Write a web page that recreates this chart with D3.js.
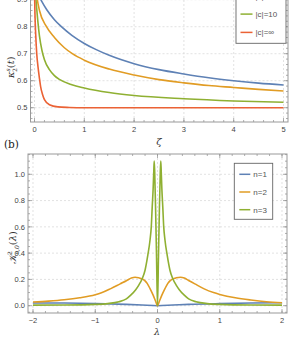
<!DOCTYPE html>
<html>
<head>
<meta charset="utf-8">
<script src="https://cdn.jsdelivr.net/npm/d3@7"></script>
<style>
  body { margin: 0; background: #fff; }
  svg { display: block; }
  .tick-label { font-family: "Liberation Sans", Arial, sans-serif; font-size: 7.5px; fill: #444; }
  .legend-text { font-family: "Liberation Sans", Arial, sans-serif; font-size: 8px; fill: #555; }
</style>
</head>
<body>
<div id="chart"></div>
<script>
// ---- data : panel (a), kappa vs zeta ----
let top_series = [
  {name: "|c|=1", color: "#5E81B5",
   x: [0.10, 0.14, 0.25, 0.40, 0.54, 0.75, 1.00, 1.24, 1.50, 2.00, 2.50, 3.00, 3.50, 4.00, 4.50, 5.00],
   y: [0.910, 0.896, 0.862, 0.826, 0.800, 0.768, 0.738, 0.715, 0.694, 0.663, 0.641, 0.625, 0.611, 0.600, 0.591, 0.584]},
  {name: "|c|=3", color: "#E19C24",
   x: [0.030, 0.057, 0.10, 0.24, 0.40, 0.60, 0.76, 1.00, 1.50, 2.00, 2.50, 3.00, 3.50, 4.00, 4.50, 5.00],
   y: [0.940, 0.900, 0.860, 0.800, 0.760, 0.722, 0.700, 0.676, 0.643, 0.621, 0.604, 0.592, 0.582, 0.575, 0.568, 0.562]},
  {name: "|c|=10", color: "#8FB032",
   x: [0.015, 0.03, 0.05, 0.10, 0.15, 0.20, 0.30, 0.40, 0.50, 0.75, 1.00, 1.50, 2.00, 3.00, 4.00, 5.00],
   y: [0.950, 0.900, 0.855, 0.765, 0.712, 0.678, 0.641, 0.619, 0.605, 0.585, 0.573, 0.556, 0.545, 0.533, 0.525, 0.520]},
  {name: "|c|=\u221e", color: "#EB6235",
   x: [0.001, 0.004, 0.012, 0.023, 0.045, 0.07, 0.10, 0.123, 0.16, 0.20, 0.30, 0.47, 0.70, 1.00, 3.00, 5.00],
   y: [0.960, 0.900, 0.830, 0.776, 0.700, 0.652, 0.608, 0.578, 0.550, 0.530, 0.511, 0.503, 0.501, 0.500, 0.500, 0.500]}
];
let top_xticks = [0, 1, 2, 3, 4, 5];
let top_yticks = [0.5, 0.6, 0.7, 0.8, 0.9];

// ---- data : panel (b), K vs lambda ----
let bot_series = [
  {name: "n=1", color: "#5E81B5",
   x: [-2, -1.5, -1, -0.5, -0.25, 0, 0.25, 0.5, 1, 1.5, 2],
   y: [0.021, 0.020, 0.017, 0.010, 0.005, 0.000, 0.005, 0.010, 0.016, 0.020, 0.022]},
  {name: "n=2", color: "#E19C24",
   x: [-2, -1.75, -1.5, -1.25, -1, -0.9, -0.75, -0.6, -0.5, -0.42, -0.36, -0.3, -0.246, -0.2, -0.166, -0.12, -0.07, -0.035, 0,
       0.035, 0.07, 0.12, 0.166, 0.2, 0.246, 0.3, 0.37, 0.43, 0.5, 0.6, 0.75, 0.9, 1, 1.25, 1.5, 1.75, 2],
   y: [0.028, 0.035, 0.045, 0.060, 0.083, 0.098, 0.130, 0.166, 0.190, 0.210, 0.216, 0.212, 0.204, 0.189, 0.170, 0.130, 0.080, 0.040, 0.000,
       0.040, 0.080, 0.130, 0.170, 0.189, 0.204, 0.212, 0.216, 0.210, 0.192, 0.166, 0.128, 0.100, 0.086, 0.060, 0.043, 0.030, 0.022]},
  {name: "n=3", color: "#8FB032",
   x: [-2, -1.5, -1, -0.8, -0.62, -0.5, -0.43, -0.35, -0.3, -0.246, -0.2, -0.155, -0.12, -0.1, -0.085, -0.07, -0.06, -0.053,
       -0.045, -0.03, -0.015, 0, 0.015, 0.03, 0.045,
       0.053, 0.06, 0.07, 0.085, 0.1, 0.12, 0.155, 0.2, 0.246, 0.3, 0.35, 0.43, 0.5, 0.62, 0.8, 1, 1.5, 2],
   y: [0.004, 0.005, 0.010, 0.016, 0.030, 0.052, 0.080, 0.122, 0.157, 0.205, 0.270, 0.386, 0.500, 0.600, 0.750, 0.890, 1.020, 1.100,
       1.020, 0.720, 0.360, 0.000, 0.360, 0.720, 1.020,
       1.100, 1.020, 0.890, 0.750, 0.600, 0.500, 0.386, 0.270, 0.205, 0.157, 0.122, 0.080, 0.052, 0.030, 0.016, 0.010, 0.005, 0.004]}
];
let bot_xticks = [-2, -1, 0, 1, 2];
let bot_yticks = [0, 0.2, 0.4, 0.6, 0.8, 1.0];

let W = 299, H = 339;
let svg = d3.select("#chart").append("svg").attr("width", W).attr("height", H);
svg.append("rect").attr("width", W).attr("height", H).attr("fill", "#fff");

let fmt_minus = function(s) { return s.replace("-", "\u2212"); };

let draw_panel = function(p) {
  let x = d3.scaleLinear().domain(p.xdom).range(p.xrange);
  let y = d3.scaleLinear().domain(p.ydom).range(p.yrange);
  let f = p.frame;
  let g = svg.append("g");

  let clipId = "clip-" + p.id;
  svg.append("clipPath").attr("id", clipId).append("rect")
    .attr("x", f.left).attr("y", f.top).attr("width", f.right - f.left).attr("height", f.bottom - f.top);

  // grid
  let grid = g.append("g").attr("clip-path", "url(#" + clipId + ")")
    .attr("stroke", "#d6d6d6").attr("stroke-width", 0.7).attr("stroke-dasharray", "2,2");
  p.xticks.forEach(function(t) {
    grid.append("line").attr("x1", x(t)).attr("x2", x(t)).attr("y1", f.top).attr("y2", f.bottom);
  });
  p.yticks.forEach(function(t) {
    grid.append("line").attr("y1", y(t)).attr("y2", y(t)).attr("x1", f.left).attr("x2", f.right);
  });

  // curves
  let line = d3.line().x(function(d) { return x(d[0]); }).y(function(d) { return y(d[1]); })
    .curve(d3.curveMonotoneX);
  let cg = g.append("g").attr("clip-path", "url(#" + clipId + ")");
  p.series.forEach(function(s) {
    let pts = s.x.map(function(v, i) { return [v, s.y[i]]; });
    cg.append("path").datum(pts).attr("d", line)
      .attr("fill", "none").attr("stroke", s.color).attr("stroke-width", 1.6)
      .attr("stroke-linejoin", "round");
  });

  // frame
  g.append("rect").attr("x", f.left).attr("y", f.top)
    .attr("width", f.right - f.left).attr("height", f.bottom - f.top)
    .attr("fill", "none").attr("stroke", "#999").attr("stroke-width", 1);

  // ticks (major + minor), inward on all sides
  let tk = g.append("g").attr("stroke", "#999").attr("stroke-width", 0.8);
  let xminor = d3.range(p.xdom[0], p.xdom[1] + 1e-9, p.xminor);
  let yminor = d3.range(p.yminor0, p.ymax + 1e-9, p.yminor);
  xminor.forEach(function(t) {
    let X = x(t); if (X < f.left || X > f.right) return;
    tk.append("line").attr("x1", X).attr("x2", X).attr("y1", f.bottom).attr("y2", f.bottom - 2);
    tk.append("line").attr("x1", X).attr("x2", X).attr("y1", f.top).attr("y2", f.top + 2);
  });
  yminor.forEach(function(t) {
    let Y = y(t); if (Y < f.top || Y > f.bottom) return;
    tk.append("line").attr("y1", Y).attr("y2", Y).attr("x1", f.left).attr("x2", f.left + 2);
    tk.append("line").attr("y1", Y).attr("y2", Y).attr("x1", f.right).attr("x2", f.right - 2);
  });
  p.xticks.forEach(function(t) {
    tk.append("line").attr("x1", x(t)).attr("x2", x(t)).attr("y1", f.bottom).attr("y2", f.bottom - 4);
    tk.append("line").attr("x1", x(t)).attr("x2", x(t)).attr("y1", f.top).attr("y2", f.top + 4);
    g.append("text").attr("class", "tick-label").attr("x", x(t)).attr("y", f.bottom + 10)
      .attr("text-anchor", "middle").text(fmt_minus(d3.format(p.xfmt)(t)));
  });
  p.yticks.forEach(function(t) {
    tk.append("line").attr("y1", y(t)).attr("y2", y(t)).attr("x1", f.left).attr("x2", f.left + 4);
    tk.append("line").attr("y1", y(t)).attr("y2", y(t)).attr("x1", f.right).attr("x2", f.right - 4);
    g.append("text").attr("class", "tick-label").attr("x", f.left - 3).attr("y", y(t) + 2.7)
      .attr("text-anchor", "end").text(d3.format(p.yfmt)(t));
  });

  // legend
  let L = p.legend;
  g.append("rect").attr("x", L.x).attr("y", L.y).attr("width", L.w).attr("height", L.h)
    .attr("fill", "#fff").attr("stroke", "#666").attr("stroke-width", 0.9);
  p.series.forEach(function(s, i) {
    let yy = L.first + i * L.step;
    g.append("line").attr("x1", L.x + L.lx0).attr("x2", L.x + L.lx1).attr("y1", yy).attr("y2", yy)
      .attr("stroke", s.color).attr("stroke-width", 1.5);
    g.append("text").attr("class", "legend-text").attr("x", L.x + L.tx).attr("y", yy + 2.8).text(s.name);
  });
};

draw_panel({
  id: "a", series: top_series,
  xdom: [0, 5], xrange: [34.5, 283.5], ydom: [0.5, 0.8], yrange: [107.7, 26.7],
  frame: {left: 30.5, right: 288, top: -20, bottom: 122},
  xticks: top_xticks, yticks: top_yticks, xfmt: "d", yfmt: ".1f",
  xminor: 0.2, yminor: 0.02, yminor0: 0.44, ymax: 0.96,
  legend: {x: 236, y: -50, w: 50, h: 93.3, first: -22.5, step: 18.3, lx0: 4.5, lx1: 16.5, tx: 19.5}
});

draw_panel({
  id: "b", series: bot_series,
  xdom: [-2, 2], xrange: [33, 282], ydom: [0, 1], yrange: [305.7, 174.3],
  frame: {left: 28, right: 287, top: 154, bottom: 313},
  xticks: bot_xticks, yticks: bot_yticks, xfmt: "d", yfmt: ".1f",
  xminor: 0.2, yminor: 0.05, yminor0: -0.05, ymax: 1.15,
  legend: {x: 234.3, y: 163.3, w: 38.4, h: 56, first: 174.3, step: 17.7, lx0: 5, lx1: 16, tx: 19}
});

// axis labels
svg.append("text").attr("x", 159).attr("y", 145).attr("text-anchor", "middle")
  .style("font-family", "'DejaVu Serif', serif").style("font-style", "italic").style("font-size", "10px")
  .attr("fill", "#333").text("\u03b6");
svg.append("text").attr("x", 157).attr("y", 335).attr("text-anchor", "middle")
  .style("font-family", "'DejaVu Serif', serif").style("font-style", "italic").style("font-size", "9.5px")
  .attr("fill", "#333").text("\u03bb");

let ylab_a = svg.append("text").attr("transform", "translate(14,78) rotate(-90)")
  .style("font-family", "'DejaVu Serif', serif").style("font-size", "10px").attr("fill", "#333");
ylab_a.append("tspan").style("font-style", "italic").text("\u03ba");
ylab_a.append("tspan").attr("dy", -4).style("font-size", "6px").style("font-style", "italic").text("s");
ylab_a.append("tspan").attr("dx", -3.6).attr("dy", 7).style("font-size", "6px").text("2");
ylab_a.append("tspan").attr("dy", -3).text("(");
ylab_a.append("tspan").style("font-style", "italic").text("t");
ylab_a.append("tspan").text(")");

let ylab_b = svg.append("text").attr("transform", "translate(16,264) rotate(-90)")
  .style("font-family", "'DejaVu Serif', serif").style("font-size", "10px").attr("fill", "#333");
ylab_b.append("tspan").style("font-style", "italic").text("\ud835\udca6");
ylab_b.append("tspan").attr("dy", -4).style("font-size", "6px").text("2");
ylab_b.append("tspan").attr("dx", -3.6).attr("dy", 7).style("font-size", "6px").style("font-style", "italic").text("n,0");
ylab_b.append("tspan").attr("dy", -3).text("(");
ylab_b.append("tspan").style("font-style", "italic").text("\u03bb");
ylab_b.append("tspan").text(")");

svg.append("text").attr("x", 4).attr("y", 148)
  .style("font-family", "'DejaVu Serif', 'Liberation Serif', serif").style("font-size", "10.5px")
  .attr("fill", "#222").text("(b)");
</script>
</body>
</html>
